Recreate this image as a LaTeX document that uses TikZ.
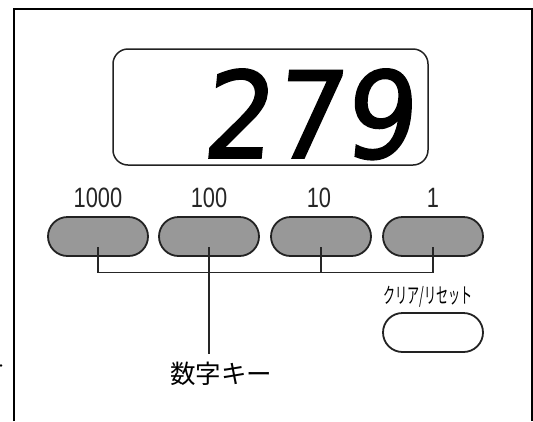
\documentclass[tikz,border=0pt]{standalone}
\usepackage{fontspec}
\usetikzlibrary{shapes.misc}
\newfontfamily\lcdfont[FakeSlant=0.1,FakeStretch=0.93,FakeBold=1.5]{DejaVu Sans}
\newfontfamily\labfont[FakeStretch=0.78]{Liberation Sans}
\newfontfamily\jpfont{Noto Sans CJK JP}
\newfontfamily\jpnarrow[FakeStretch=0.56]{Noto Sans CJK JP}
\definecolor{keygray}{HTML}{989898}
\definecolor{edge}{HTML}{222222}
\tikzset{
  frameline/.style={line width=2.2pt,black},
  keybtn/.style={rounded rectangle,draw=edge,line width=1.8pt,fill=keygray,
    minimum width=100pt,minimum height=39pt,inner sep=0pt},
  clearbtn/.style={keybtn,fill=white},
  conn/.style={line width=1.1pt,black!85},
  keylabel/.style={inner sep=0pt,font=\labfont\fontsize{28}{28}\selectfont,text=black!85},
}
\begin{document}
\begin{tikzpicture}[x=1pt,y=-1pt]
\useasboundingbox (0,0) rectangle (533,421);
% outer frame (open at bottom)
\draw[frameline] (14.2,421) -- (14.2,9) -- (531.9,9) -- (531.9,421);
\fill[black] (1,365.5) circle (1.4pt);
% display
\node[draw=edge,line width=1.5pt,rounded corners=15pt,minimum width=315pt,minimum height=116pt,inner sep=0pt] (disp) at (270.5,107) {};
\node[anchor=base,inner sep=0pt,font=\lcdfont\fontsize{120}{120}\selectfont] (digits) at (307.5,158) {279};
% keys
\node[keybtn] (b1) at (98,236.5) {};
\node[keybtn] (b2) at (209,236.5) {};
\node[keybtn] (b3) at (321,236.5) {};
\node[keybtn] (b4) at (433,236.5) {};
\node[keylabel,anchor=base] (l1) at (98,207) {1000};
\node[keylabel,anchor=base] (l2) at (209,207) {100};
\node[keylabel,anchor=base] (l3) at (319,207) {10};
\node[keylabel,anchor=base] (l4) at (433,207) {1};
% clear key
\node[inner sep=0pt,font=\jpnarrow\fontsize{21.5}{21.5}\selectfont] (cl) at (428,296.5) {クリア/リセット};
\node[clearbtn] (cb) at (433,332.5) {};
% connectors
\coordinate (j) at (98,272.5);
\draw[conn] ([yshift=-10.5pt]b1.center) -- (b1.center |- j) -- (b4.center |- j) -- ([yshift=-10.5pt]b4.center);
\draw[conn] ([yshift=-10.5pt]b3.center) -- (b3.center |- j);
\node[inner sep=0pt,font=\jpfont\fontsize{25.5}{25.5}\selectfont] (key) at (221,374) {数字キー};
\draw[conn] ([yshift=-10.5pt]b2.center) -- ([yshift=8pt]key.north -| b2.center);
\end{tikzpicture}
\end{document}
